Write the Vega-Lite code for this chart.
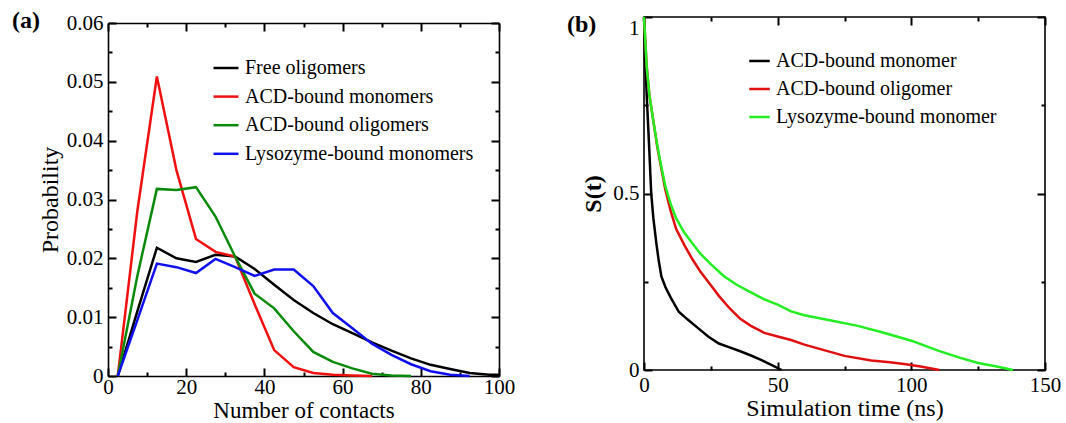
{
  "$schema": "https://vega.github.io/schema/vega-lite/v6.json",
  "background": "white",
  "padding": {"left": 12, "top": 9, "right": 5, "bottom": 0},
  "config": {
    "font": "Liberation Serif",
    "view": {"stroke": "black", "strokeWidth": 1.6},
    "axis": {
      "grid": false,
      "domain": false,
      "domainColor": "black",
      "domainWidth": 1.6,
      "ticks": true,
      "tickOpacity": 1,
      "tickColor": "#000000",
      "tickWidth": 2,
      "labelFont": "Liberation Serif",
      "labelFontSize": 21,
      "labelColor": "black",
      "labelFlush": false,
      "labelOverlap": false,
      "titleFont": "Liberation Serif",
      "titleFontSize": 24,
      "titleFontWeight": "normal",
      "titleColor": "black"
    },
    "legend": {
      "labelFont": "Liberation Serif",
      "labelFontSize": 20,
      "labelColor": "black",
      "labelLimit": 400,
      "symbolType": "stroke",
      "symbolStrokeWidth": 2.5,
      "padding": 0
    }
  },
  "datasets": {
    "a": [
      {"contacts": 2.5, "prob": 0.0, "series": "Free oligomers"},
      {"contacts": 7.5, "prob": 0.011, "series": "Free oligomers"},
      {"contacts": 12.5, "prob": 0.0218, "series": "Free oligomers"},
      {"contacts": 17.5, "prob": 0.0200, "series": "Free oligomers"},
      {"contacts": 22.5, "prob": 0.0194, "series": "Free oligomers"},
      {"contacts": 27.5, "prob": 0.0206, "series": "Free oligomers"},
      {"contacts": 32.5, "prob": 0.0203, "series": "Free oligomers"},
      {"contacts": 37.5, "prob": 0.0182, "series": "Free oligomers"},
      {"contacts": 42.5, "prob": 0.0155, "series": "Free oligomers"},
      {"contacts": 47.5, "prob": 0.0129, "series": "Free oligomers"},
      {"contacts": 52.5, "prob": 0.0107, "series": "Free oligomers"},
      {"contacts": 57.5, "prob": 0.0088, "series": "Free oligomers"},
      {"contacts": 62.5, "prob": 0.0073, "series": "Free oligomers"},
      {"contacts": 67.5, "prob": 0.0057, "series": "Free oligomers"},
      {"contacts": 72.5, "prob": 0.0043, "series": "Free oligomers"},
      {"contacts": 77.5, "prob": 0.0030, "series": "Free oligomers"},
      {"contacts": 82.5, "prob": 0.0019, "series": "Free oligomers"},
      {"contacts": 87.5, "prob": 0.0012, "series": "Free oligomers"},
      {"contacts": 92.5, "prob": 0.0005, "series": "Free oligomers"},
      {"contacts": 97.5, "prob": 0.0002, "series": "Free oligomers"},
      {"contacts": 100, "prob": 0.0002, "series": "Free oligomers"},
      {"contacts": 2.5, "prob": 0.0, "series": "ACD-bound monomers"},
      {"contacts": 7.5, "prob": 0.028, "series": "ACD-bound monomers"},
      {"contacts": 12.5, "prob": 0.0509, "series": "ACD-bound monomers"},
      {"contacts": 17.5, "prob": 0.035, "series": "ACD-bound monomers"},
      {"contacts": 22.5, "prob": 0.0233, "series": "ACD-bound monomers"},
      {"contacts": 27.5, "prob": 0.0211, "series": "ACD-bound monomers"},
      {"contacts": 32.5, "prob": 0.0203, "series": "ACD-bound monomers"},
      {"contacts": 37.5, "prob": 0.0122, "series": "ACD-bound monomers"},
      {"contacts": 42.5, "prob": 0.0044, "series": "ACD-bound monomers"},
      {"contacts": 47.5, "prob": 0.0015, "series": "ACD-bound monomers"},
      {"contacts": 52.5, "prob": 0.0005, "series": "ACD-bound monomers"},
      {"contacts": 57.5, "prob": 0.0002, "series": "ACD-bound monomers"},
      {"contacts": 62.5, "prob": 0.0001, "series": "ACD-bound monomers"},
      {"contacts": 67.5, "prob": 0.0, "series": "ACD-bound monomers"},
      {"contacts": 2.5, "prob": 0.0, "series": "ACD-bound oligomers"},
      {"contacts": 7.5, "prob": 0.017, "series": "ACD-bound oligomers"},
      {"contacts": 12.5, "prob": 0.0318, "series": "ACD-bound oligomers"},
      {"contacts": 17.5, "prob": 0.0316, "series": "ACD-bound oligomers"},
      {"contacts": 22.5, "prob": 0.0321, "series": "ACD-bound oligomers"},
      {"contacts": 27.5, "prob": 0.0271, "series": "ACD-bound oligomers"},
      {"contacts": 32.5, "prob": 0.0203, "series": "ACD-bound oligomers"},
      {"contacts": 37.5, "prob": 0.0140, "series": "ACD-bound oligomers"},
      {"contacts": 42.5, "prob": 0.0115, "series": "ACD-bound oligomers"},
      {"contacts": 47.5, "prob": 0.0076, "series": "ACD-bound oligomers"},
      {"contacts": 52.5, "prob": 0.0041, "series": "ACD-bound oligomers"},
      {"contacts": 57.5, "prob": 0.0024, "series": "ACD-bound oligomers"},
      {"contacts": 62.5, "prob": 0.0013, "series": "ACD-bound oligomers"},
      {"contacts": 67.5, "prob": 0.0004, "series": "ACD-bound oligomers"},
      {"contacts": 72.5, "prob": 0.0001, "series": "ACD-bound oligomers"},
      {"contacts": 77.5, "prob": 0.0, "series": "ACD-bound oligomers"},
      {"contacts": 2.5, "prob": 0.0, "series": "Lysozyme-bound monomers"},
      {"contacts": 7.5, "prob": 0.0095, "series": "Lysozyme-bound monomers"},
      {"contacts": 12.5, "prob": 0.0191, "series": "Lysozyme-bound monomers"},
      {"contacts": 17.5, "prob": 0.0185, "series": "Lysozyme-bound monomers"},
      {"contacts": 22.5, "prob": 0.0175, "series": "Lysozyme-bound monomers"},
      {"contacts": 27.5, "prob": 0.0199, "series": "Lysozyme-bound monomers"},
      {"contacts": 32.5, "prob": 0.0185, "series": "Lysozyme-bound monomers"},
      {"contacts": 37.5, "prob": 0.0170, "series": "Lysozyme-bound monomers"},
      {"contacts": 42.5, "prob": 0.0181, "series": "Lysozyme-bound monomers"},
      {"contacts": 47.5, "prob": 0.0181, "series": "Lysozyme-bound monomers"},
      {"contacts": 52.5, "prob": 0.0153, "series": "Lysozyme-bound monomers"},
      {"contacts": 57.5, "prob": 0.0107, "series": "Lysozyme-bound monomers"},
      {"contacts": 62.5, "prob": 0.0081, "series": "Lysozyme-bound monomers"},
      {"contacts": 67.5, "prob": 0.0055, "series": "Lysozyme-bound monomers"},
      {"contacts": 72.5, "prob": 0.0036, "series": "Lysozyme-bound monomers"},
      {"contacts": 77.5, "prob": 0.0020, "series": "Lysozyme-bound monomers"},
      {"contacts": 82.5, "prob": 0.0008, "series": "Lysozyme-bound monomers"},
      {"contacts": 87.5, "prob": 0.0002, "series": "Lysozyme-bound monomers"},
      {"contacts": 92.5, "prob": 0.0, "series": "Lysozyme-bound monomers"}
    ],
    "b": [
      {"time": 0, "S": 1.0, "curve": "ACD-bound monomer"},
      {"time": 0.5, "S": 0.87, "curve": "ACD-bound monomer"},
      {"time": 1, "S": 0.78, "curve": "ACD-bound monomer"},
      {"time": 1.5, "S": 0.70, "curve": "ACD-bound monomer"},
      {"time": 2, "S": 0.62, "curve": "ACD-bound monomer"},
      {"time": 2.7, "S": 0.50, "curve": "ACD-bound monomer"},
      {"time": 3.5, "S": 0.43, "curve": "ACD-bound monomer"},
      {"time": 4.6, "S": 0.36, "curve": "ACD-bound monomer"},
      {"time": 5.5, "S": 0.31, "curve": "ACD-bound monomer"},
      {"time": 6.5, "S": 0.265, "curve": "ACD-bound monomer"},
      {"time": 8, "S": 0.235, "curve": "ACD-bound monomer"},
      {"time": 10, "S": 0.205, "curve": "ACD-bound monomer"},
      {"time": 13, "S": 0.165, "curve": "ACD-bound monomer"},
      {"time": 16, "S": 0.145, "curve": "ACD-bound monomer"},
      {"time": 20, "S": 0.12, "curve": "ACD-bound monomer"},
      {"time": 24, "S": 0.095, "curve": "ACD-bound monomer"},
      {"time": 28, "S": 0.075, "curve": "ACD-bound monomer"},
      {"time": 32, "S": 0.064, "curve": "ACD-bound monomer"},
      {"time": 36, "S": 0.053, "curve": "ACD-bound monomer"},
      {"time": 40, "S": 0.041, "curve": "ACD-bound monomer"},
      {"time": 44, "S": 0.028, "curve": "ACD-bound monomer"},
      {"time": 48, "S": 0.013, "curve": "ACD-bound monomer"},
      {"time": 51.5, "S": 0.0, "curve": "ACD-bound monomer"},
      {"time": 0, "S": 1.0, "curve": "ACD-bound oligomer"},
      {"time": 1, "S": 0.86, "curve": "ACD-bound oligomer"},
      {"time": 2, "S": 0.78, "curve": "ACD-bound oligomer"},
      {"time": 3.4, "S": 0.71, "curve": "ACD-bound oligomer"},
      {"time": 5, "S": 0.63, "curve": "ACD-bound oligomer"},
      {"time": 6.5, "S": 0.57, "curve": "ACD-bound oligomer"},
      {"time": 8, "S": 0.51, "curve": "ACD-bound oligomer"},
      {"time": 10, "S": 0.45, "curve": "ACD-bound oligomer"},
      {"time": 12, "S": 0.40, "curve": "ACD-bound oligomer"},
      {"time": 15, "S": 0.355, "curve": "ACD-bound oligomer"},
      {"time": 18, "S": 0.315, "curve": "ACD-bound oligomer"},
      {"time": 21, "S": 0.28, "curve": "ACD-bound oligomer"},
      {"time": 25, "S": 0.24, "curve": "ACD-bound oligomer"},
      {"time": 28, "S": 0.21, "curve": "ACD-bound oligomer"},
      {"time": 32, "S": 0.175, "curve": "ACD-bound oligomer"},
      {"time": 36, "S": 0.145, "curve": "ACD-bound oligomer"},
      {"time": 40, "S": 0.125, "curve": "ACD-bound oligomer"},
      {"time": 45, "S": 0.105, "curve": "ACD-bound oligomer"},
      {"time": 50, "S": 0.095, "curve": "ACD-bound oligomer"},
      {"time": 55, "S": 0.085, "curve": "ACD-bound oligomer"},
      {"time": 60, "S": 0.072, "curve": "ACD-bound oligomer"},
      {"time": 67, "S": 0.057, "curve": "ACD-bound oligomer"},
      {"time": 75, "S": 0.040, "curve": "ACD-bound oligomer"},
      {"time": 85, "S": 0.027, "curve": "ACD-bound oligomer"},
      {"time": 92, "S": 0.022, "curve": "ACD-bound oligomer"},
      {"time": 98, "S": 0.016, "curve": "ACD-bound oligomer"},
      {"time": 104, "S": 0.009, "curve": "ACD-bound oligomer"},
      {"time": 110.5, "S": 0.0, "curve": "ACD-bound oligomer"},
      {"time": 0, "S": 1.0, "curve": "Lysozyme-bound monomer"},
      {"time": 1, "S": 0.86, "curve": "Lysozyme-bound monomer"},
      {"time": 2, "S": 0.78, "curve": "Lysozyme-bound monomer"},
      {"time": 3.4, "S": 0.71, "curve": "Lysozyme-bound monomer"},
      {"time": 5, "S": 0.635, "curve": "Lysozyme-bound monomer"},
      {"time": 6.5, "S": 0.575, "curve": "Lysozyme-bound monomer"},
      {"time": 8, "S": 0.52, "curve": "Lysozyme-bound monomer"},
      {"time": 10, "S": 0.47, "curve": "Lysozyme-bound monomer"},
      {"time": 12, "S": 0.43, "curve": "Lysozyme-bound monomer"},
      {"time": 15, "S": 0.39, "curve": "Lysozyme-bound monomer"},
      {"time": 18, "S": 0.36, "curve": "Lysozyme-bound monomer"},
      {"time": 21, "S": 0.33, "curve": "Lysozyme-bound monomer"},
      {"time": 25, "S": 0.30, "curve": "Lysozyme-bound monomer"},
      {"time": 30, "S": 0.265, "curve": "Lysozyme-bound monomer"},
      {"time": 35, "S": 0.24, "curve": "Lysozyme-bound monomer"},
      {"time": 40, "S": 0.22, "curve": "Lysozyme-bound monomer"},
      {"time": 45, "S": 0.20, "curve": "Lysozyme-bound monomer"},
      {"time": 50, "S": 0.185, "curve": "Lysozyme-bound monomer"},
      {"time": 55, "S": 0.166, "curve": "Lysozyme-bound monomer"},
      {"time": 60, "S": 0.155, "curve": "Lysozyme-bound monomer"},
      {"time": 70, "S": 0.14, "curve": "Lysozyme-bound monomer"},
      {"time": 80, "S": 0.125, "curve": "Lysozyme-bound monomer"},
      {"time": 90, "S": 0.105, "curve": "Lysozyme-bound monomer"},
      {"time": 100, "S": 0.083, "curve": "Lysozyme-bound monomer"},
      {"time": 110, "S": 0.055, "curve": "Lysozyme-bound monomer"},
      {"time": 118, "S": 0.035, "curve": "Lysozyme-bound monomer"},
      {"time": 125, "S": 0.02, "curve": "Lysozyme-bound monomer"},
      {"time": 132, "S": 0.01, "curve": "Lysozyme-bound monomer"},
      {"time": 138, "S": 0.0, "curve": "Lysozyme-bound monomer"}
    ]
  },
  "spacing": 51,
  "resolve": {
    "scale": {"x": "independent", "y": "independent", "color": "independent"},
    "legend": {"color": "independent"}
  },
  "hconcat": [
    {
      "width": 391,
      "height": 359,
      "view": {"stroke": null},
      "data": {"name": "a"},
      "title": {"text": "(a)", "anchor": "start", "frame": "group", "fontSize": 24, "fontWeight": "bold", "font": "Liberation Serif", "color": "black", "baseline": "alphabetic", "dx": -96, "offset": -40},
      "resolve": {"axis": {"x": "independent", "y": "independent"}},
      "layer": [
        {
          "mark": {"type": "line", "strokeWidth": 2.5},
          "encoding": {
            "x": {"field": "contacts", "type": "quantitative", "scale": {"domain": [0, 100], "nice": false, "zero": false},
              "axis": {"orient": "bottom", "domain": true, "values": [0, 20, 40, 60, 80, 100], "ticks": false, "tickSize": 0, "labelPadding": 0, "format": "d", "title": "Number of contacts", "titleFontSize": 23, "titlePadding": 2.5}},
            "y": {"field": "prob", "type": "quantitative", "scale": {"domain": [0, 0.06], "nice": false, "range": [359, 6]},
              "axis": {"orient": "left", "domain": true, "values": [0, 0.01, 0.02, 0.03, 0.04, 0.05, 0.06], "ticks": false, "tickSize": 0, "labelPadding": 5, "format": ".2~f", "title": "Probability", "titlePadding": 4}},
            "color": {"field": "series", "type": "nominal",
              "scale": {"domain": ["Free oligomers", "ACD-bound monomers", "ACD-bound oligomers", "Lysozyme-bound monomers"], "range": ["#000000", "#f01010", "#0a8a0a", "#1010ee"]},
              "legend": {"orient": "none", "legendX": 104, "legendY": 37, "title": null, "symbolSize": 625, "rowPadding": 4.6, "labelOffset": 5}}
          }
        },
        {
          "mark": {"type": "point", "opacity": 0},
          "encoding": {
            "x": {"field": "contacts", "type": "quantitative", "axis": {"orient": "top", "offset": -359, "values": [0, 20, 40, 60, 80, 100], "ticks": true, "tickSize": 8, "labels": false, "title": null}},
            "y": {"field": "prob", "type": "quantitative", "axis": {"orient": "right", "offset": -391, "values": [0, 0.01, 0.02, 0.03, 0.04, 0.05, 0.06], "ticks": true, "tickSize": 8, "labels": false, "title": null}}
          }
        },
        {
          "mark": {"type": "point", "opacity": 0},
          "encoding": {
            "x": {"field": "contacts", "type": "quantitative", "axis": {"orient": "top", "offset": -359, "values": [10, 30, 50, 70, 90], "ticks": true, "tickSize": 4, "labels": false, "title": null}},
            "y": {"field": "prob", "type": "quantitative", "axis": {"orient": "right", "offset": -391, "values": [0.005, 0.015, 0.025, 0.035, 0.045, 0.055], "ticks": true, "tickSize": 4, "labels": false, "title": null}}
          }
        },
        {
          "mark": {"type": "point", "opacity": 0},
          "encoding": {
            "x": {"field": "contacts", "type": "quantitative", "axis": {"orient": "bottom", "offset": -353, "domain": true, "values": [0, 20, 40, 60, 80, 100], "ticks": true, "tickSize": 8, "labels": false, "title": null}},
            "y": {"field": "prob", "type": "quantitative", "axis": {"orient": "left", "offset": -391, "domain": true, "values": [0, 0.01, 0.02, 0.03, 0.04, 0.05, 0.06], "ticks": true, "tickSize": 8, "labels": false, "title": null}}
          }
        },
        {
          "mark": {"type": "point", "opacity": 0},
          "encoding": {
            "x": {"field": "contacts", "type": "quantitative", "axis": {"orient": "bottom", "offset": -353, "values": [10, 30, 50, 70, 90], "ticks": true, "tickSize": 4, "labels": false, "title": null}},
            "y": {"field": "prob", "type": "quantitative", "axis": {"orient": "left", "offset": -391, "values": [0.005, 0.015, 0.025, 0.035, 0.045, 0.055], "ticks": true, "tickSize": 4, "labels": false, "title": null}}
          }
        }
      ]
    },
    {
      "width": 401,
      "height": 353,
      "data": {"name": "b"},
      "title": {"text": "(b)", "anchor": "start", "frame": "group", "fontSize": 24, "fontWeight": "bold", "font": "Liberation Serif", "color": "black", "baseline": "alphabetic", "dx": -77, "offset": -44},
      "resolve": {"axis": {"x": "independent", "y": "independent"}},
      "layer": [
        {
          "mark": {"type": "line", "strokeWidth": 2.5},
          "encoding": {
            "x": {"field": "time", "type": "quantitative", "scale": {"domain": [0, 150], "nice": false},
              "axis": {"orient": "bottom", "values": [0, 50, 100, 150], "ticks": false, "tickSize": 0, "labelPadding": 4, "format": "d", "title": "Simulation time (ns)", "titlePadding": 1}},
            "y": {"field": "S", "type": "quantitative", "scale": {"domain": [0, 1], "nice": false},
              "axis": {"orient": "left", "values": [0, 0.5, 1], "ticks": false, "tickSize": 0, "labelPadding": 5, "format": ".1~f",
                "labelBaseline": {"condition": {"test": "datum.value == 1", "value": "top"}, "value": "middle"},
                "title": "S(t)", "titleFontWeight": "bold", "titlePadding": 7}},
            "color": {"field": "curve", "type": "nominal",
              "scale": {"domain": ["ACD-bound monomer", "ACD-bound oligomer", "Lysozyme-bound monomer"], "range": ["#000000", "#e01010", "#22ee22"]},
              "legend": {"orient": "none", "legendX": 104, "legendY": 32.5, "title": null, "symbolSize": 420, "rowPadding": 6, "labelOffset": 5}}
          }
        },
        {
          "mark": {"type": "point", "opacity": 0},
          "encoding": {
            "x": {"field": "time", "type": "quantitative", "axis": {"orient": "top", "offset": -353, "values": [0, 50, 100, 150], "ticks": true, "tickSize": 8, "labels": false, "title": null}},
            "y": {"field": "S", "type": "quantitative", "axis": {"orient": "right", "offset": -401, "values": [0, 0.5, 1], "ticks": true, "tickSize": 8, "labels": false, "title": null}}
          }
        },
        {
          "mark": {"type": "point", "opacity": 0},
          "encoding": {
            "x": {"field": "time", "type": "quantitative", "axis": {"orient": "top", "offset": -353, "values": [25, 75, 125], "ticks": true, "tickSize": 4, "labels": false, "title": null}},
            "y": {"field": "S", "type": "quantitative", "axis": {"orient": "right", "offset": -401, "values": [0.25, 0.75], "ticks": true, "tickSize": 4, "labels": false, "title": null}}
          }
        },
        {
          "mark": {"type": "point", "opacity": 0},
          "encoding": {
            "x": {"field": "time", "type": "quantitative", "axis": {"orient": "bottom", "offset": -353, "values": [0, 50, 100, 150], "ticks": true, "tickSize": 8, "labels": false, "title": null}},
            "y": {"field": "S", "type": "quantitative", "axis": {"orient": "left", "offset": -401, "values": [0, 0.5, 1], "ticks": true, "tickSize": 8, "labels": false, "title": null}}
          }
        },
        {
          "mark": {"type": "point", "opacity": 0},
          "encoding": {
            "x": {"field": "time", "type": "quantitative", "axis": {"orient": "bottom", "offset": -353, "values": [25, 75, 125], "ticks": true, "tickSize": 4, "labels": false, "title": null}},
            "y": {"field": "S", "type": "quantitative", "axis": {"orient": "left", "offset": -401, "values": [0.25, 0.75], "ticks": true, "tickSize": 4, "labels": false, "title": null}}
          }
        }
      ]
    }
  ]
}
